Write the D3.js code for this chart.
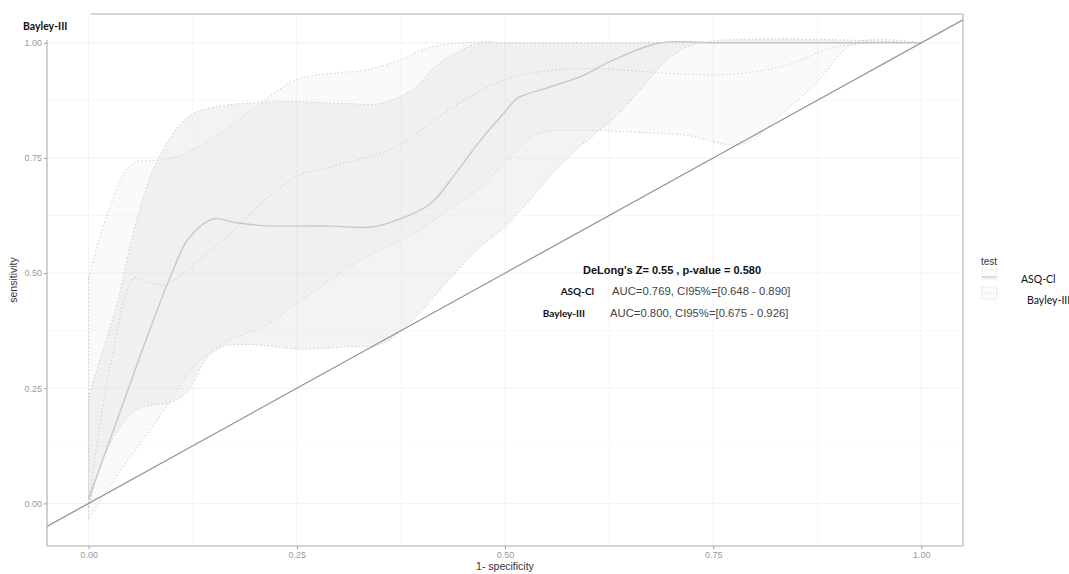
<!DOCTYPE html>
<html>
<head>
<meta charset="utf-8">
<script src="https://cdn.jsdelivr.net/npm/d3@7"></script>
<style>
body { margin:0; background:#fff; }
svg { display:block; }
</style>
</head>
<body>
<div id="chart"></div>
<script>

// ---- values ----
const tests = ["ASQ-Cl", "Bayley-III"]
const xTicks = [0, 0.25, 0.5, 0.75, 1]
const yTicks = [0, 0.25, 0.5, 0.75, 1]
const xMinor = [0.125, 0.375, 0.625, 0.875]
const yMinor = [0.125, 0.375, 0.625, 0.875]

// ASQ-Cl smoothed ROC (1-specificity, sensitivity)
const asqFpr  = [0, 0.02, 0.042, 0.07, 0.1, 0.12, 0.15, 0.175, 0.21, 0.29, 0.34, 0.37, 0.41, 0.44, 0.47, 0.5, 0.515, 0.547, 0.595, 0.627, 0.687, 0.75, 1]
const asqSens = [0.01, 0.11, 0.22, 0.36, 0.5, 0.575, 0.618, 0.61, 0.603, 0.602, 0.6, 0.615, 0.65, 0.715, 0.787, 0.85, 0.88, 0.9, 0.93, 0.96, 1, 1, 1]
// ASQ-Cl CI band
const asqUpFpr  = [0, 0.02, 0.035, 0.054, 0.083, 0.12, 0.15, 0.2, 0.25, 0.31, 0.35, 0.39, 0.42, 0.47, 0.5, 1]
const asqUpSens = [0.23, 0.35, 0.44, 0.59, 0.746, 0.84, 0.86, 0.87, 0.872, 0.868, 0.868, 0.9, 0.954, 1, 1, 1]
const asqLoFpr  = [0, 0.02, 0.055, 0.083, 0.1, 0.12, 0.14, 0.16, 0.19, 0.255, 0.31, 0.35, 0.39, 0.43, 0.47, 0.5, 0.575, 0.636, 0.7, 0.735, 1]
const asqLoSens = [-0.01, 0.11, 0.2, 0.215, 0.22, 0.245, 0.31, 0.34, 0.345, 0.335, 0.34, 0.345, 0.4, 0.48, 0.556, 0.6, 0.75, 0.845, 0.97, 1, 1]

// Bayley-III smoothed ROC
const bayFpr  = [0, 0.026, 0.055, 0.07, 0.09, 0.107, 0.13, 0.17, 0.21, 0.25, 0.29, 0.33, 0.37, 0.41, 0.45, 0.5, 0.555, 0.615, 0.715, 0.775, 0.835, 0.895, 0.955, 1]
const baySens = [0, 0.3, 0.49, 0.48, 0.475, 0.49, 0.525, 0.585, 0.655, 0.71, 0.73, 0.75, 0.775, 0.825, 0.875, 0.92, 0.94, 0.943, 0.932, 0.932, 0.95, 0.99, 1, 1]
// Bayley-III CI band
const bayUpFpr  = [0, 0.012, 0.025, 0.04, 0.055, 0.083, 0.11, 0.155, 0.2, 0.25, 0.3, 0.33, 0.37, 0.41, 0.45, 0.5, 1]
const bayUpSens = [0.49, 0.57, 0.64, 0.71, 0.74, 0.745, 0.755, 0.8, 0.86, 0.92, 0.935, 0.94, 0.96, 0.99, 1, 1, 1]
const bayLoFpr  = [0, 0.03, 0.07, 0.107, 0.126, 0.17, 0.21, 0.255, 0.31, 0.35, 0.39, 0.43, 0.47, 0.5, 0.535, 0.595, 0.655, 0.715, 0.785, 0.835, 0.876, 0.92, 1]
const bayLoSens = [-0.035, 0.05, 0.15, 0.245, 0.296, 0.355, 0.383, 0.44, 0.51, 0.55, 0.585, 0.635, 0.685, 0.74, 0.8, 0.81, 0.806, 0.8, 0.78, 0.85, 0.917, 1, 1]

const deLong = "DeLong's Z= 0.55 , p-value = 0.580"
const aucLabels = ["AUC=0.769, CI95%=[0.648 - 0.890]", "AUC=0.800, CI95%=[0.675 - 0.926]"]

// ---- drawing ----
const W = 1069
const H = 574
const pLeft = 47, pRight = 963, pTop = 14, pBottom = 546

const svg = d3.select("#chart").append("svg")
	.attr("width", W)
	.attr("height", H)

const x = d3.scaleLinear().domain([-0.05, 1.05]).range([pLeft, pRight])
const y = d3.scaleLinear().domain([-0.0925, 1.0625]).range([pBottom, pTop])

svg.append("clipPath").attr("id", "panel")
	.append("rect")
		.attr("x", pLeft).attr("y", pTop)
		.attr("width", pRight-pLeft).attr("height", pBottom-pTop)

// grid
const grid = svg.append("g")
grid.selectAll("line.vminor").data(xMinor).enter().append("line")
	.attr("x1", d => x(d)).attr("x2", d => x(d)).attr("y1", pTop).attr("y2", pBottom)
	.attr("stroke", "#f6f6f6").attr("stroke-width", 0.8)
grid.selectAll("line.hminor").data(yMinor).enter().append("line")
	.attr("y1", d => y(d)).attr("y2", d => y(d)).attr("x1", pLeft).attr("x2", pRight)
	.attr("stroke", "#f6f6f6").attr("stroke-width", 0.8)
grid.selectAll("line.vmajor").data(xTicks).enter().append("line")
	.attr("x1", d => x(d)).attr("x2", d => x(d)).attr("y1", pTop).attr("y2", pBottom)
	.attr("stroke", "#f2f2f2").attr("stroke-width", 1)
grid.selectAll("line.hmajor").data(yTicks).enter().append("line")
	.attr("y1", d => y(d)).attr("y2", d => y(d)).attr("x1", pLeft).attr("x2", pRight)
	.attr("stroke", "#f2f2f2").attr("stroke-width", 1)

const line = d3.line()
	.x(d => x(d[0]))
	.y(d => y(d[1]))
	.curve(d3.curveCatmullRom.alpha(0.5))

function pts(xs, ys) { return xs.map((v, i) => [v, ys[i]]) }

function bandPath(upX, upY, loX, loY) {
	const up = line(pts(upX, upY))
	const lo = line(pts(loX, loY).reverse())
	return up + "L" + lo.slice(1) + "Z"
}

const plot = svg.append("g").attr("clip-path", "url(#panel)")

const bands = [
	{ test: tests[1], d: bandPath(bayUpFpr, bayUpSens, bayLoFpr, bayLoSens), opacity: 0.17 },
	{ test: tests[0], d: bandPath(asqUpFpr, asqUpSens, asqLoFpr, asqLoSens), opacity: 0.38 }
]

plot.selectAll("path.band").data(bands).enter().append("path")
	.attr("class", "band")
	.attr("d", d => d.d)
	.attr("fill", "#e0e0e0")
	.attr("fill-opacity", d => d.opacity)
	.attr("stroke", "#c6c6c6")
	.attr("stroke-width", 1)
	.attr("stroke-dasharray", "1.2,2.6")

// ROC curves
plot.append("path")
	.attr("d", line(pts(bayFpr, baySens)))
	.attr("fill", "none")
	.attr("stroke", "#c6c6c6")
	.attr("stroke-width", 1)
	.attr("stroke-dasharray", "1.2,2.6")

plot.append("path")
	.attr("d", line(pts(asqFpr, asqSens)))
	.attr("fill", "none")
	.attr("stroke", "#c8c8c8")
	.attr("stroke-width", 1.4)

// chance line
plot.append("line")
	.attr("x1", x(-0.05)).attr("y1", y(-0.05))
	.attr("x2", x(1.05)).attr("y2", y(1.05))
	.attr("stroke", "#8e8e8e")
	.attr("stroke-width", 1.2)

// axes
const yAxis = svg.append("g")
	.attr("transform", `translate(${pLeft},0)`)
	.call(d3.axisLeft(y).tickValues(yTicks).tickFormat(d3.format(".2f")).tickSize(3).tickPadding(2))
const xAxis = svg.append("g")
	.attr("transform", `translate(0,${pBottom})`)
	.call(d3.axisBottom(x).tickValues(xTicks).tickFormat(d3.format(".2f")).tickSize(3).tickPadding(3))

;[yAxis, xAxis].forEach(a => {
	a.select(".domain").remove()
	a.selectAll(".tick line").attr("stroke", "#9a9a9a")
	a.selectAll("text")
		.attr("fill", "#9a9a9a")
		.style("font-family", "'Liberation Sans', Arial, sans-serif")
		.style("font-size", "9px")
})

// panel frame
const frame = [
	[pLeft, 40, pLeft, pBottom],
	[pLeft, pBottom, pRight, pBottom],
	[pRight, pTop, pRight, pBottom],
	[91, pTop, pRight, pTop]
]
svg.selectAll("line.frame").data(frame).enter().append("line")
	.attr("x1", d => d[0]).attr("y1", d => d[1])
	.attr("x2", d => d[2]).attr("y2", d => d[3])
	.attr("stroke", "#ababab")
	.attr("stroke-width", 1.1)

// axis titles
svg.append("text")
	.attr("x", (pLeft+pRight)/2).attr("y", 570)
	.attr("text-anchor", "middle")
	.attr("fill", "#333")
	.style("font-family", "'Liberation Sans', Arial, sans-serif")
	.style("font-size", "10.5px")
	.text("1- specificity")

svg.append("text")
	.attr("transform", `translate(17,${(pTop+pBottom)/2}) rotate(-90)`)
	.attr("text-anchor", "middle")
	.attr("fill", "#333")
	.style("font-family", "'Liberation Sans', Arial, sans-serif")
	.style("font-size", "10.5px")
	.text("sensitivity")

// top-left tag
svg.append("text")
	.attr("x", 23).attr("y", 30)
	.attr("fill", "#111")
	.style("font-family", "Lato, 'Open Sans', sans-serif")
	.style("font-weight", "bold")
	.style("font-size", "10.5px")
	.text(tests[1])

// annotation
svg.append("text")
	.attr("x", 672).attr("y", 274)
	.attr("text-anchor", "middle")
	.attr("fill", "#111")
	.style("font-family", "'Liberation Sans', Arial, sans-serif")
	.style("font-weight", "bold")
	.style("font-size", "11px")
	.text(deLong)

const annY = [295, 317]
const annName = [594, 585]
svg.selectAll("text.ann-name").data(tests).enter().append("text")
	.attr("x", (d, i) => annName[i]).attr("y", (d, i) => annY[i])
	.attr("text-anchor", "end")
	.attr("fill", "#111")
	.style("font-family", "Lato, 'Open Sans', sans-serif")
	.style("font-weight", "bold")
	.style("font-size", "10px")
	.text(d => d)

svg.selectAll("text.ann-auc").data(aucLabels).enter().append("text")
	.attr("x", (d, i) => i === 0 ? 612 : 610).attr("y", (d, i) => annY[i])
	.attr("fill", "#444")
	.style("font-family", "'Liberation Sans', Arial, sans-serif")
	.style("font-size", "11.3px")
	.text(d => d)

// legend
const legend = svg.append("g")
legend.append("text")
	.attr("x", 981).attr("y", 265)
	.attr("fill", "#333")
	.style("font-family", "'Liberation Sans', Arial, sans-serif")
	.style("font-size", "10px")
	.text("test")

const keyY = [269, 287]
legend.selectAll("rect.key").data(tests).enter().append("rect")
	.attr("x", 982).attr("y", (d, i) => keyY[i])
	.attr("width", 15).attr("height", (d, i) => i === 0 ? 10 : 12)
	.attr("fill", "#fcfcfc")
	.attr("stroke", "#cccccc")
	.attr("stroke-width", 0.9)
	.attr("stroke-dasharray", "1,1.8")
legend.append("line")
	.attr("x1", 982).attr("x2", 997).attr("y1", 277).attr("y2", 277)
	.attr("stroke", "#c8c8c8").attr("stroke-width", 1.2)
legend.append("line")
	.attr("x1", 982).attr("x2", 997).attr("y1", 293).attr("y2", 293)
	.attr("stroke", "#cccccc").attr("stroke-width", 0.9)
	.attr("stroke-dasharray", "1,1.8")

const legX = [1021, 1027]
const legY = [283, 304]
legend.selectAll("text.lab").data(tests).enter().append("text")
	.attr("x", (d, i) => legX[i]).attr("y", (d, i) => legY[i])
	.attr("fill", "#111")
	.style("font-family", "Lato, 'Open Sans', sans-serif")
	.style("font-size", "10.5px")
	.text(d => d)

</script>
</body>
</html>
